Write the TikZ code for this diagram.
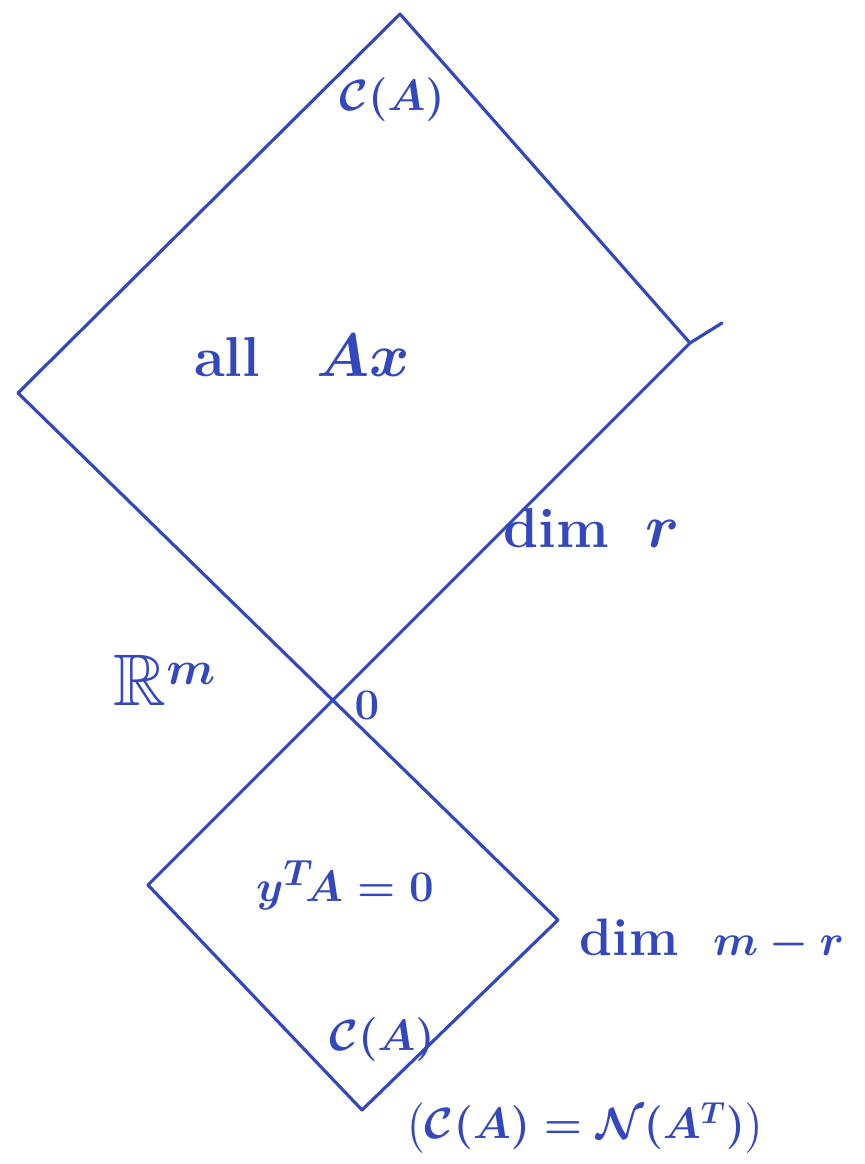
\documentclass[tikz,border=0pt]{standalone}
\usepackage{amsmath,amssymb}
\usetikzlibrary{positioning}
\definecolor{pen_blue}{RGB}{52, 72, 190}
\newcommand{\bigmath}[1]{\scalebox{1.4}{$#1$}}

\begin{document}
\begin{tikzpicture}[x=0.02cm, y=-0.02cm, line cap=round, line join=round,
      side/.style={draw=pen_blue, line width=1.8pt},
      lbl/.style={text=pen_blue, font=\fontsize{32}{38}\selectfont\bfseries\boldmath, inner sep=0pt},
      small/.style={text=pen_blue, font=\fontsize{24}{28}\selectfont\bfseries\boldmath, inner sep=0pt}]
    \useasboundingbox (0,0) rectangle (865,1164);
    % corners of the two squares
    \coordinate (top)   at (400,14);
    \coordinate (left)  at (18,393);
    \coordinate (right) at (690,343);
    \coordinate (rtip)  at (722,323);
    \coordinate (bl)    at (148,885);
    \coordinate (br)    at (558,920);
    \coordinate (bot)   at (362,1110);
    % column space (upper square)
    \draw[side] (left) -- (top) -- (right);
    \draw[side] (rtip) -- (right) -- (bl);
    \draw[side] (left) -- (br);
    % left nullspace (lower square)
    \draw[side] (bl) -- (bot) -- (br);
    % labels
    \node[lbl] (colsp) at (392,100) {$\mathcal{C}(A)$};
    \node[lbl] (allax) at (302,356) {all\quad \bigmath{Ax}};
    \node[lbl] (dimr) at (592,528) {dim\; \bigmath{r}};
    \node[lbl] (rm) at (165,680) {\scalebox{1.3}{$\mathbb{R}^m$}};
    \node[small] (zero) at (367,705) {$0$};
    \node[lbl] (yta) at (345,885) {$y^{T}\!A=0$};
    \node[lbl, font=\fontsize{30}{36}\selectfont\bfseries\boldmath] (dimmr) at (712,940) {dim\; $m-r$};
    \node[lbl, font=\fontsize{28}{34}\selectfont\bfseries\boldmath] (lnull) at (382,1040) {$\mathcal{C}(A)$};
    \node[small] (same) at (585,1128) {$\bigl(\mathcal{C}(A)=\mathcal{N}(A^{T})\bigr)$};
\end{tikzpicture}
\end{document}
